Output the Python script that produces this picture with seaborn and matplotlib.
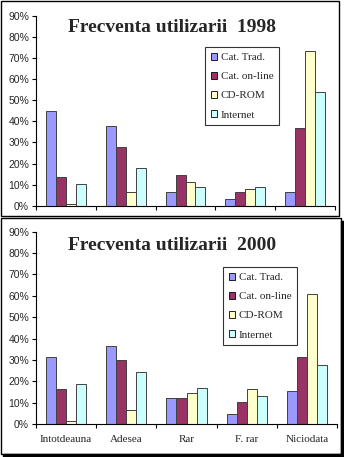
import matplotlib
matplotlib.use("Agg")
import matplotlib.pyplot as plt
import seaborn as sns
import pandas as pd
import numpy as np
from matplotlib.patches import Rectangle
from matplotlib.ticker import FixedLocator, FuncFormatter

categories = ["Intotdeauna", "Adesea", "Rar", "F. rar", "Niciodata"]
series = ["Cat. Trad.", "Cat. on-line", "CD-ROM", "Internet"]
v1998_trad = [45, 38, 6.5, 3.3, 6.5]
v1998_online = [13.5, 28, 14.5, 6.5, 37]
v1998_cdrom = [1, 6.5, 11.2, 8, 73.3]
v1998_internet = [10.5, 18, 9, 9, 54]
v2000_trad = [31.2, 36.3, 12.2, 4.8, 15.6]
v2000_online = [16.4, 29.8, 12.2, 10.5, 31.2]
v2000_cdrom = [1.6, 6.7, 14.5, 16.4, 61]
v2000_internet = [18.7, 24.3, 16.8, 13.1, 27.5]
yticks = [0, 10, 20, 30, 40, 50, 60, 70, 80, 90]
colors = ["#9999FF", "#993366", "#FFFFCC", "#CCFFFF"]

def make_df(vals):
    rows = []
    for s, v in zip(series, vals):
        for c, x in zip(categories, v):
            rows.append({"cat": c, "series": s, "val": x})
    return pd.DataFrame(rows)

df98 = make_df([v1998_trad, v1998_online, v1998_cdrom, v1998_internet])
df00 = make_df([v2000_trad, v2000_online, v2000_cdrom, v2000_internet])

sns.set_theme(style="white")
plt.rcParams["font.family"] = ["Liberation Sans", "DejaVu Sans"]

W, H = 344, 457
fig = plt.figure(figsize=(W / 100, H / 100), dpi=100)

def ax_rect(l, r, t, b):
    return [l / W, 1 - b / H, (r - l) / W, (b - t) / H]

ax1 = fig.add_axes(ax_rect(36, 335, 16, 205.7))
ax2 = fig.add_axes(ax_rect(36, 337, 231.7, 424))

serif = ["Liberation Serif", "DejaVu Serif"]

def style(ax, df, title, title_y, show_labels, legend_xy):
    sns.barplot(data=df, x="cat", y="val", hue="series", order=categories,
                hue_order=series, palette=colors, width=0.667, gap=0,
                edgecolor="#404040", linewidth=0.7, ax=ax, errorbar=None,
                saturation=1)
    ax.set_xlim(-0.5, 4.5)
    ax.set_ylim(0, 90)
    for s in ["top", "right"]:
        ax.spines[s].set_visible(False)
    for s in ["left", "bottom"]:
        ax.spines[s].set_color("#000000")
        ax.spines[s].set_linewidth(0.8)
    ax.set_xlabel("")
    ax.set_ylabel("")
    ax.yaxis.set_major_locator(FixedLocator(yticks))
    ax.yaxis.set_major_formatter(FuncFormatter(lambda v, p: f"{int(round(v))}%"))
    ax.tick_params(axis="y", direction="out", length=3, width=0.8, color="black",
                   labelsize=7.5, pad=2, left=True)
    ax.xaxis.set_major_locator(FixedLocator(np.arange(-0.5, 5, 1)))
    ax.xaxis.set_major_formatter(FuncFormatter(lambda v, p: ""))
    ax.tick_params(axis="x", which="major", direction="out", length=3, width=0.8,
                   color="black", bottom=True)
    ax.xaxis.set_minor_locator(FixedLocator(np.arange(0, 5, 1)))
    if show_labels:
        ax.set_xticks(np.arange(0, 5, 1), minor=True)
        ax.set_xticklabels(categories, minor=True, fontfamily=serif, fontsize=8)
        ax.tick_params(axis="x", which="minor", length=0, pad=8)
    else:
        ax.tick_params(axis="x", which="minor", length=0, labelbottom=False)
    ax.grid(False)
    ax.text(0.5, title_y, title, transform=fig.transFigure, ha="center",
            va="center", fontfamily=serif, fontweight="bold", fontsize=14)
    leg = ax.legend(loc="upper left", bbox_to_anchor=legend_xy,
                    bbox_transform=fig.transFigure, prop={"family": serif, "size": 8},
                    frameon=True, fancybox=False, edgecolor="black",
                    handlelength=0.6, handleheight=0.6, handletextpad=0.3,
                    labelspacing=0.88, borderpad=0.5, borderaxespad=0)
    leg.get_frame().set_linewidth(0.8)
    for h in leg.legend_handles:
        h.set_edgecolor("black")
        h.set_linewidth(0.6)

style(ax1, df98, "Frecventa utilizarii  1998", 1 - 28 / H, False,
      (205 / W, 1 - 47 / H))
style(ax2, df00, "Frecventa utilizarii  2000", 1 - 245 / H, True,
      (223 / W, 1 - 267 / H))

# panel borders
def frect(x0, y0, x1, y1, lw=1.0):
    fig.add_artist(Rectangle((x0 / W, 1 - y1 / H), (x1 - x0) / W, (y1 - y0) / H,
                             transform=fig.transFigure, fill=False,
                             edgecolor="black", linewidth=lw))

frect(0.5, 0.5, 339, 216)
# bottom panel with shadow
fig.add_artist(Rectangle((3 / W, 1 - 456.5 / H), 340 / W, 3 / H,
                         transform=fig.transFigure, color="black"))
fig.add_artist(Rectangle((340.5 / W, 1 - 456.5 / H), 3 / W, 236 / H,
                         transform=fig.transFigure, color="black"))
frect(0.5, 218, 341, 454)

fig.savefig("out.png", dpi=100)
